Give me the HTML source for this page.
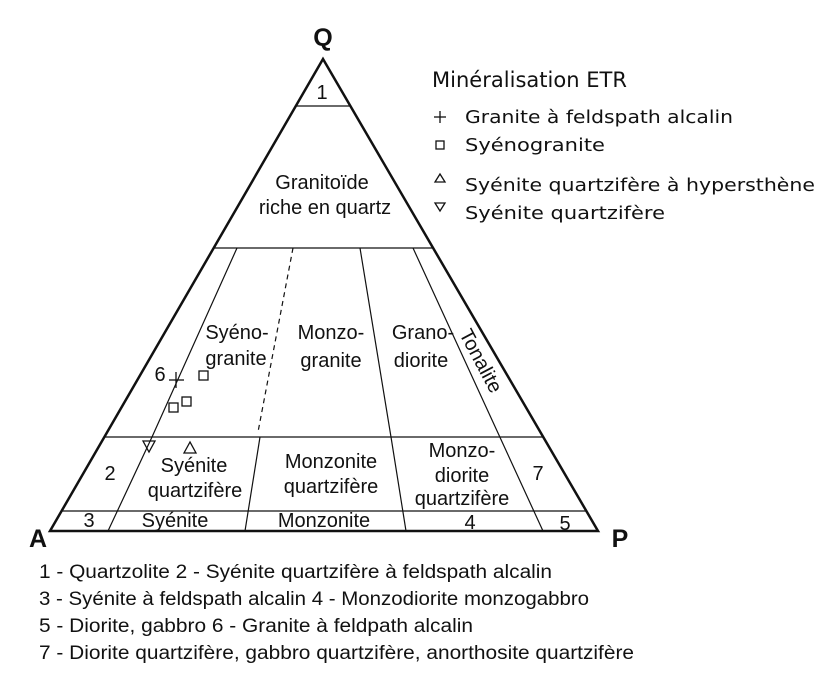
<!DOCTYPE html>
<html><head><meta charset="utf-8"><style>
html,body{margin:0;padding:0;background:#fff;}
svg{display:block;font-family:"Liberation Sans",Arial,sans-serif;}
</style></head><body>
<svg width="837" height="677" viewBox="0 0 837 677" xmlns="http://www.w3.org/2000/svg">
<g fill="none" stroke="#111">
<polygon points="323,59 50,531 598,531" stroke-width="2.5" stroke-linejoin="miter"/>
<g stroke-width="1.2">
<line x1="295" y1="106" x2="351" y2="106"/>
<line x1="214" y1="248" x2="432" y2="248"/>
<line x1="104" y1="437" x2="543" y2="437"/>
<line x1="61" y1="511" x2="587" y2="511"/>
<polyline points="237,248 152,437 108,531"/>
<line x1="293" y1="248" x2="258" y2="432" stroke-dasharray="5,4"/>
<line x1="260" y1="437" x2="245" y2="531"/>
<polyline points="360,248 391,437 406,531"/>
<line x1="413" y1="248" x2="543" y2="531"/>
</g>
</g>
<g fill="#111" font-size="20" text-anchor="middle">
<text x="323" y="46" font-size="25" font-weight="bold">Q</text>
<text x="38" y="547" font-size="25" font-weight="bold">A</text>
<text x="620" y="547" font-size="25" font-weight="bold">P</text>
<text x="322" y="99">1</text>
<text x="322" y="189">Granitoïde</text>
<text x="325" y="214">riche en quartz</text>
<text x="237" y="339">Syéno-</text>
<text x="236" y="365">granite</text>
<text x="331" y="339">Monzo-</text>
<text x="331" y="367">granite</text>
<text x="423" y="339">Grano-</text>
<text x="421" y="367">diorite</text>
<text transform="translate(475,364) rotate(62)">Tonalite</text>
<text x="160" y="381">6</text>
<text x="110" y="480">2</text>
<text x="194" y="472">Syénite</text>
<text x="195" y="497">quartzifère</text>
<text x="331" y="468">Monzonite</text>
<text x="331" y="493">quartzifère</text>
<text x="462" y="457">Monzo-</text>
<text x="462" y="482">diorite</text>
<text x="462" y="505">quartzifère</text>
<text x="538" y="480">7</text>
<text x="89" y="527">3</text>
<text x="175" y="527">Syénite</text>
<text x="324" y="527">Monzonite</text>
<text x="470" y="529">4</text>
<text x="565" y="530">5</text>
</g>
<g fill="none" stroke="#111" stroke-width="1.3">
<line x1="169" y1="380" x2="184" y2="380"/><line x1="176" y1="372" x2="176" y2="388"/>
<rect x="199" y="371" width="9" height="9"/>
<rect x="182" y="397" width="9" height="9"/>
<rect x="169" y="403" width="9" height="9"/>
<polygon points="143,441 155,441 149,452"/>
<polygon points="190,442 184,453 196,453"/>
<line x1="434" y1="117" x2="446" y2="117"/><line x1="440" y1="111" x2="440" y2="123"/>
<rect x="436" y="141" width="8" height="8"/>
<polygon points="440,174 435,182 445,182"/>
<polygon points="435,203 445,203 440,211"/>
</g>
<g fill="#111" font-family="'DejaVu Sans','Liberation Sans',sans-serif">
<text x="432" y="87" font-size="21" textLength="195" lengthAdjust="spacingAndGlyphs">Minéralisation ETR</text>
<text x="465" y="123" font-size="18" textLength="268" lengthAdjust="spacingAndGlyphs">Granite à feldspath alcalin</text>
<text x="465" y="151" font-size="18" textLength="140" lengthAdjust="spacingAndGlyphs">Syénogranite</text>
<text x="465" y="191" font-size="18" textLength="350" lengthAdjust="spacingAndGlyphs">Syénite quartzifère à hypersthène</text>
<text x="465" y="219" font-size="18" textLength="200" lengthAdjust="spacingAndGlyphs">Syénite quartzifère</text>
</g>
<g fill="#111" font-size="19">
<text x="39" y="578" textLength="513" lengthAdjust="spacingAndGlyphs">1 - Quartzolite 2 - Syénite quartzifère à feldspath alcalin</text>
<text x="39" y="605" textLength="550" lengthAdjust="spacingAndGlyphs">3 - Syénite à feldspath alcalin 4 - Monzodiorite monzogabbro</text>
<text x="39" y="632" textLength="434" lengthAdjust="spacingAndGlyphs">5 - Diorite, gabbro 6 - Granite à feldpath alcalin</text>
<text x="39" y="659" textLength="595" lengthAdjust="spacingAndGlyphs">7 - Diorite quartzifère, gabbro quartzifère, anorthosite quartzifère</text>
</g>
</svg>
</body></html>
